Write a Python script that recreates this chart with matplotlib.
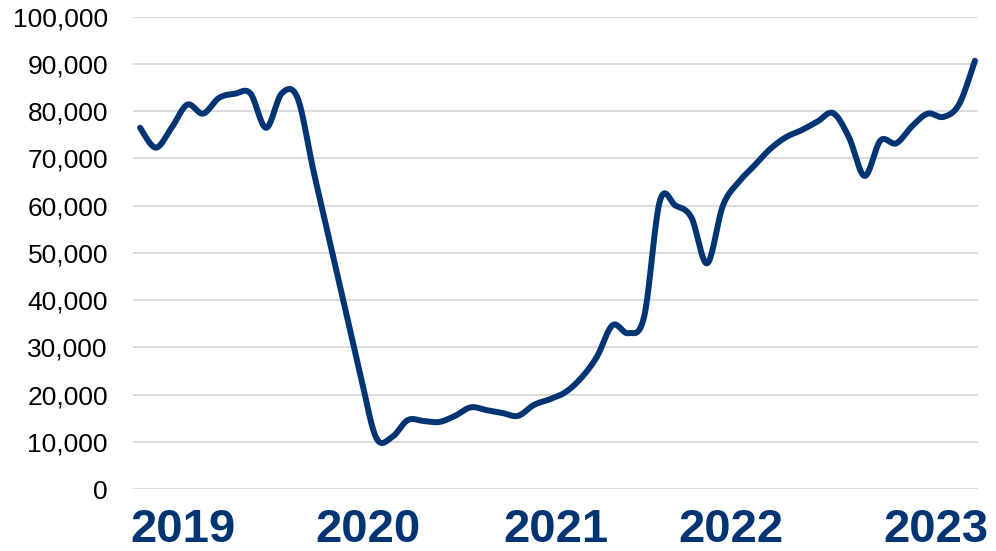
import numpy as np
import matplotlib
matplotlib.use('Agg')
import matplotlib.pyplot as plt

# ------------------------------------------------
# 1. Datos mensuales (ene 2019 - jun 2023)
# ------------------------------------------------
meses = np.arange(54)
valores = [76500, 72300, 76500, 81400, 79500, 82800, 83700, 83800, 76500, 83800,
           82800, 67500, 53000, 38500, 24000, 10800, 11000, 14600, 14400, 14200,
           15500, 17300, 16700, 16100, 15500, 17800, 19000, 20500, 23500, 28000,
           34700, 33000, 36500, 61000, 60000, 57500, 47800, 60000, 65000, 68500,
           72000, 74500, 76000, 77800, 79600, 74500, 66300, 73800, 73200, 76800,
           79500, 78800, 81500, 90700]
anios = ['2019', '2020', '2021', '2022', '2023']
y_ticks = [0, 10000, 20000, 30000, 40000, 50000, 60000, 70000, 80000, 90000, 100000]

color_linea = '#003473'


# ------------------------------------------------
# 2. Suavizado tipo Excel (Bezier cúbico por segmentos)
# ------------------------------------------------
def suavizar(x, y, n=20):
    x = np.asarray(x, dtype=float)
    y = np.asarray(y, dtype=float)
    px = np.concatenate([[x[0]], x, [x[-1]]])
    py = np.concatenate([[y[0]], y, [y[-1]]])
    xs, ys = [], []
    t = np.linspace(0, 1, n, endpoint=False)
    for i in range(1, len(px) - 2):
        p0 = np.array([px[i], py[i]])
        p3 = np.array([px[i + 1], py[i + 1]])
        c1 = p0 + (p3 - np.array([px[i - 1], py[i - 1]])) / 6
        c2 = p3 - (np.array([px[i + 2], py[i + 2]]) - p0) / 6
        b = ((1 - t) ** 3)[:, None] * p0 + (3 * (1 - t) ** 2 * t)[:, None] * c1 \
            + (3 * (1 - t) * t ** 2)[:, None] * c2 + (t ** 3)[:, None] * p3
        xs.extend(b[:, 0])
        ys.extend(b[:, 1])
    xs.append(x[-1])
    ys.append(y[-1])
    return np.array(xs), np.array(ys)


xs, ys = suavizar(meses, valores)

# ------------------------------------------------
# 3. Gráfico
# ------------------------------------------------
plt.rcParams['font.family'] = ['Liberation Sans', 'DejaVu Sans']
fig = plt.figure(figsize=(9.96, 5.51), dpi=100)
ax = fig.add_axes([0.1335, 0.1125, 0.8485, 0.857])

ax.plot(xs, ys, color=color_linea, lw=4.3, solid_capstyle='round',
        solid_joinstyle='round', zorder=3)

ax.set_ylim(0, 100000)
ax.set_xlim(-0.45, 53.2)
ax.set_yticks(y_ticks)
ax.set_yticklabels([f'{v:,}' for v in y_ticks], fontsize=19)
ax.yaxis.grid(True, color='#d9d9d9', lw=1.3)
ax.set_axisbelow(True)

# Etiquetas de años centradas a mano (como en el original)
ax.set_xticks([2.7, 14.5, 26.4, 37.5, 50.5])
ax.set_xticklabels(anios, fontsize=34, fontweight='bold', color=color_linea)

ax.tick_params(axis='both', length=0)
ax.tick_params(axis='y', pad=18)
ax.tick_params(axis='x', pad=14)
for s in ax.spines.values():
    s.set_visible(False)

plt.savefig('out.png', dpi=100)
plt.close()
